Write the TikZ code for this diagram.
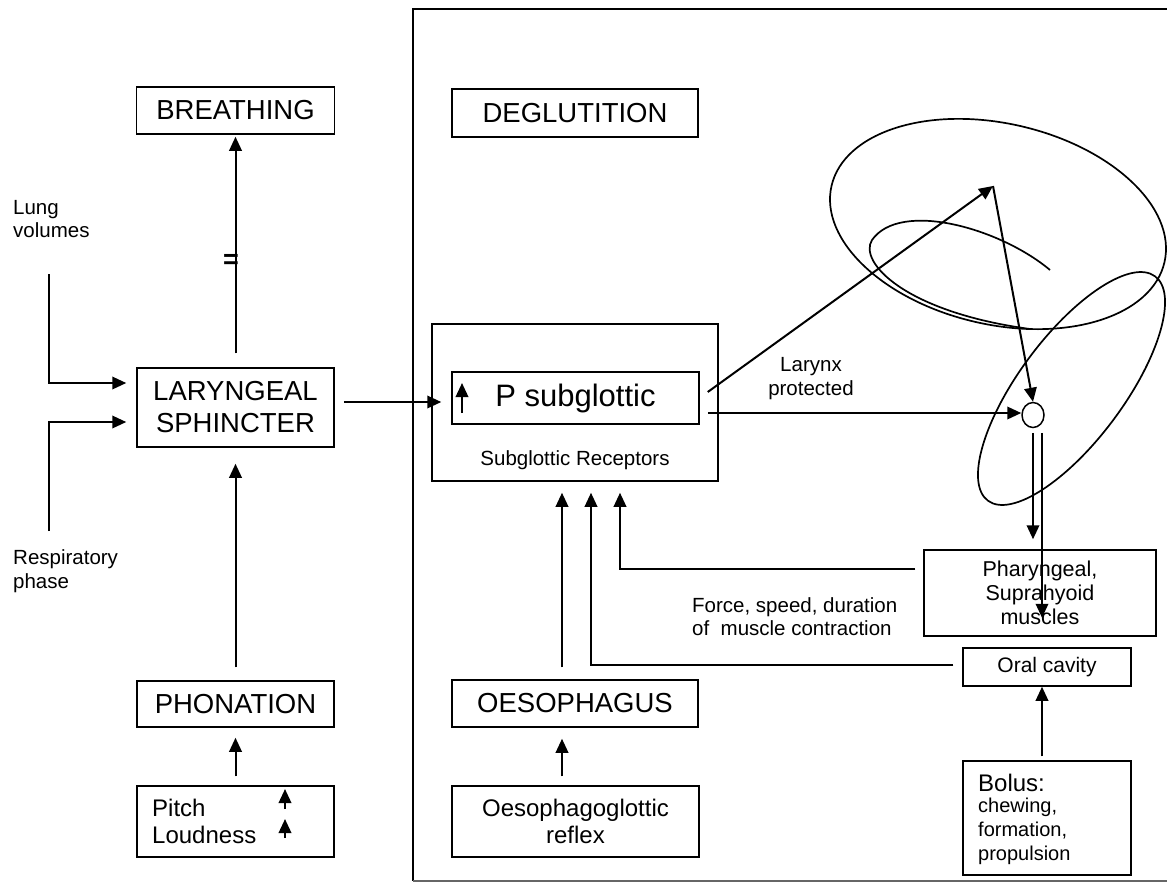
\documentclass[tikz,border=0pt]{standalone}
\usepackage{fontspec}
\setmainfont{Liberation Sans}
\usetikzlibrary{arrows.meta,shapes.geometric,calc}
\begin{document}
\begin{tikzpicture}[x=1pt,y=-1pt,
  box/.style={draw,line width=1.5pt,inner sep=0pt,align=center},
  big/.style={font=\fontsize{27.5}{32}\selectfont},
  mid/.style={font=\fontsize{24}{27.5}\selectfont},
  sml/.style={font=\fontsize{20.5}{23.5}\selectfont},
  arr/.style={line width=2pt,-{Triangle[length=14pt,width=12.5pt]}},
  curve/.style={line width=1.7pt}]
\useasboundingbox (0,0) rectangle (1167,884);
\fill[white] (0,0) rectangle (1167,884);
% big frame
\draw[line width=1.5pt] (1167,9) -- (413,9) -- (413,881);
\draw[line width=1.5pt,black!60] (413,881) -- (1167,881);
% left column
\node[box,big,minimum width=198,minimum height=47] (breath) at (235.5,110.5) {BREATHING};
\node[box,big,minimum width=197,minimum height=79] (lar) at (235.5,407.5) {LARYNGEAL\\SPHINCTER};
\node[box,big,minimum width=197,minimum height=46] (phon) at (235.5,704) {PHONATION};
\node[box,minimum width=197,minimum height=71] (pitch) at (235.5,821.5) {};
\node[mid,anchor=west,align=left,inner sep=0pt] (pitchtxt) at (152,821.5) {Pitch\\Loudness};
\node[sml,anchor=west,align=left,inner sep=0pt] (lung) at (13,219) {Lung\\volumes};
\node[sml,anchor=west,align=left,inner sep=0pt] (resp) at (13,571) {Respiratory\\phase};
\node[font=\fontsize{27}{27}\bfseries\selectfont,inner sep=0pt] (eq) at (231,261) {=};
% right part
\node[box,big,minimum width=246,minimum height=48] (deglut) at (575,113) {DEGLUTITION};
\node[box,minimum width=286,minimum height=157] (subg) at (575,402.5) {};
\node[box,minimum width=247,minimum height=52,font=\fontsize{31}{36}\selectfont] (psub) at (575.5,398) {P subglottic};
\node[sml] (recept) at (575,460) {Subglottic Receptors};
\node[box,big,minimum width=246,minimum height=47] (oes) at (575,703.5) {OESOPHAGUS};
\node[box,mid,minimum width=247,minimum height=71] (reflex) at (575.5,821.5) {Oesophagoglottic\\reflex};
\node[box,font=\fontsize{21.5}{24}\selectfont,minimum width=232,minimum height=86] (phar) at (1040,593) {Pharyngeal,\\Suprahyoid\\muscles};
\node[box,font=\fontsize{21}{24}\selectfont,minimum width=168,minimum height=38] (oral) at (1047,667) {Oral cavity};
\node[box,minimum width=168,minimum height=114] (bolus) at (1047,818) {};
\node[font=\fontsize{24}{26}\selectfont,anchor=base west,inner sep=0pt] (bl1) at (978,791) {Bolus:};
\node[font=\fontsize{20}{24}\selectfont,anchor=base west,inner sep=0pt] (bl2) at (978,812) {chewing,};
\node[font=\fontsize{20}{24}\selectfont,anchor=base west,inner sep=0pt] (bl3) at (978,836) {formation,};
\node[font=\fontsize{20}{24}\selectfont,anchor=base west,inner sep=0pt] (bl4) at (978,860) {propulsion};
\node[align=center,inner sep=0pt,font=\fontsize{20.5}{24}\selectfont] (prot) at (811,379) {Larynx\\protected};
\node[align=left,anchor=west,inner sep=0pt,font=\fontsize{20.5}{23}\selectfont] (force) at (692,617) {Force, speed, duration\\of\ \ muscle contraction};
\node[ellipse,draw,line width=1.5pt,minimum width=22,minimum height=25,inner sep=0pt] (valve) at (1033,415) {};
\coordinate (apex) at (993,186);
\coordinate (lungtop) at (49,274);
\coordinate (resptop) at (49,531);
% ellipses
\draw[curve,rotate around={-12.9:(998,224)}] (998,224) ellipse [x radius=170.8, y radius=100.5];
\draw[curve,rotate around={53.3:(1071.5,388.5)}] (1071.5,388.5) ellipse [x radius=139.9, y radius=52.3];
\draw[curve] (1050,270) .. controls (1000,228) and (900,200) .. (872,240) .. controls (858,262) and (905,312) .. (1030,329);
% connectors left
\draw[arr] ($(lar.north)+(0,-14)$) -- ($(breath.south)+(0,2)$);
\draw[arr] (lungtop) |- ($(lar.west)+(-10,-24.5)$);
\draw[arr] (resptop) |- ($(lar.west)+(-10,14.5)$);
\draw[arr] ($(phon.north)+(0,-13)$) -- ($(lar.south)+(0,16)$);
\draw[arr] ($(pitch.north)+(0,-9)$) -- ($(phon.south)+(0,10)$);
\draw[arr] ($(pitch.center)+(49.5,-12.5)$) -- ($(pitch.center)+(49.5,-32.5)$);
\draw[arr] ($(pitch.center)+(49.5,16.5)$) -- ($(pitch.center)+(49.5,-2.5)$);
\draw[arr] ($(lar.east)+(9,-5.5)$) -- ($(psub.west)+(-10,4)$);
% connectors right
\draw[arr] ($(psub.center)+(-113.5,15)$) -- ($(psub.center)+(-113.5,-15)$);
\draw[arr] ($(psub.east)+(8,-6)$) -- (apex);
\draw[arr] (apex) -- (valve.north);
\draw[arr] ($(psub.east)+(8,15)$) -- ($(valve.west)+(0,-2)$);
\draw[arr] ($(valve.south)+(0,4.5)$) -- ($(valve.south |- phar.north)+(0,-10)$);
\draw[arr] ($(valve.south)+(9,4.5)$) -- ($(valve.south |- phar.south)+(9,-19)$);
\draw[arr] ($(phar.west)+(-8,-24)$) -| ($(subg.south)+(45,11)$);
\draw[arr] ($(oral.west)+(-9,-2)$) -| ($(subg.south)+(16,11)$);
\draw[arr] ($(oes.north)+(-13,-12)$) -- ($(subg.south)+(-13,11)$);
\draw[arr] ($(reflex.north)+(-13.5,-9)$) -- ($(oes.south)+(-13,11)$);
\draw[arr] ($(bolus.north)+(-5,-4)$) -- ($(oral.south)+(-5,0)$);
\end{tikzpicture}
\end{document}
